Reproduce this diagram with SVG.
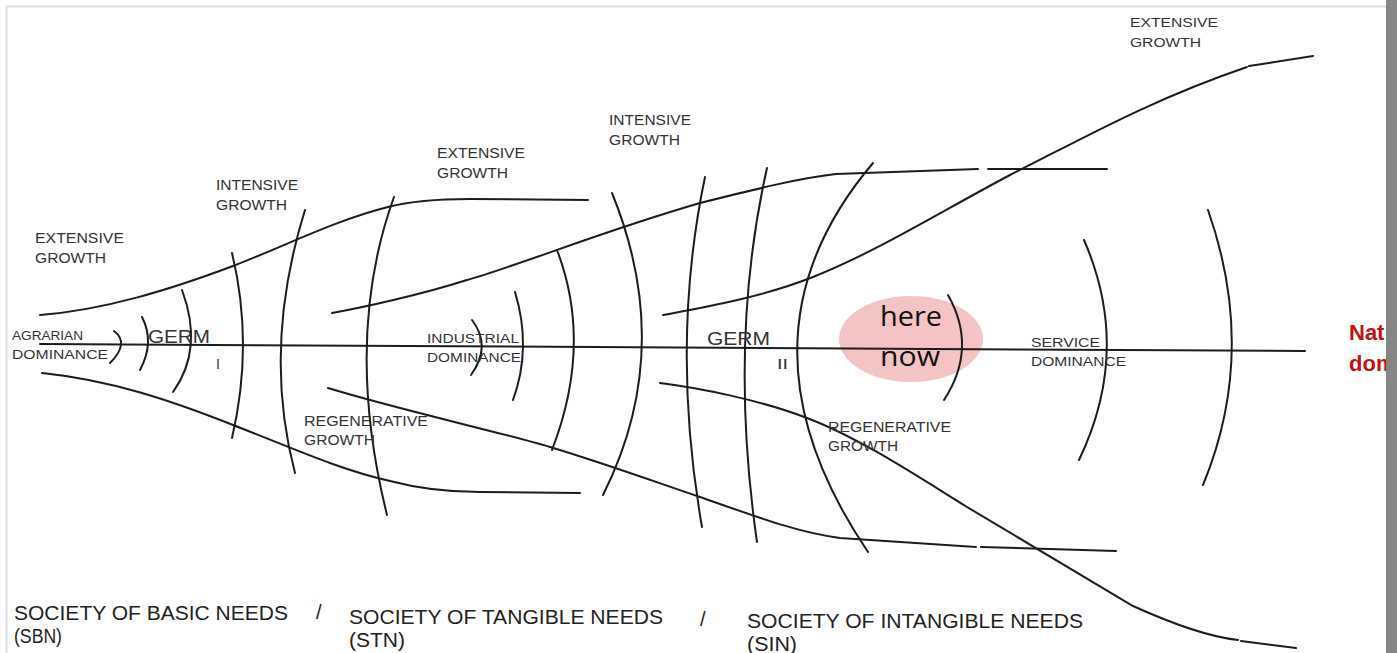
<svg xmlns="http://www.w3.org/2000/svg" width="1397" height="653" viewBox="0 0 1397 653">
<style>
.ln{fill:none;stroke:#1c1c1c;stroke-width:2;stroke-linecap:round}
.lb{font-family:"Liberation Sans",Arial,sans-serif;font-size:14px;fill:#333}
.sm{font-family:"Liberation Sans",Arial,sans-serif;font-size:13px;fill:#333}
.gm{font-family:"Liberation Sans",Arial,sans-serif;font-size:18px;fill:#333}
.bt{font-family:"Liberation Sans",Arial,sans-serif;font-size:20px;fill:#222}
.hn{font-family:"Open Sans","Liberation Sans",sans-serif;font-size:28px;fill:#111}
.rd{font-family:"Liberation Sans",Arial,sans-serif;font-size:22px;font-weight:bold;fill:#c41010}
</style>
<rect x="0" y="0" width="1397" height="653" fill="#ffffff"/>
<g id="frame">
<line x1="6.5" y1="6.5" x2="1386" y2="6.5" stroke="#dcdcdc" stroke-width="2"/>
<line x1="6.5" y1="6.5" x2="6.5" y2="653" stroke="#dcdcdc" stroke-width="2"/>
</g>
<g id="here-now">
<ellipse cx="911" cy="339" rx="72" ry="43" fill="#f4c4c4"/>
<text class="hn" x="880" y="326" textLength="62" lengthAdjust="spacingAndGlyphs">here</text>
<text class="hn" x="880" y="366" textLength="60" lengthAdjust="spacingAndGlyphs">now</text>
</g>
<g id="connectors">
<path class="ln" d="M40,344 L1305,351"/>
<path class="ln" d="M40,315 C104,310 169,290 233,266 C285,246 336,220 388,207 C415,200 445,199 470,199 L588,200"/>
<path class="ln" d="M42,373 C110,380 170,400 233,425 C290,447 340,470 390,481 C420,489 445,492 480,492 L580,493"/>
<path class="ln" d="M332,313 C360,308 420,295 467,280 C520,265 600,232 700,203 C760,188 800,178 836,174 L978,169 M988,169 L1107,169"/>
<path class="ln" d="M328,388 C400,410 500,432 550,447 C600,462 650,480 700,497 C760,518 800,533 840,538 L976,547 M981,547 L1116,551"/>
<path class="ln" d="M663,315 C700,308 760,298 813,277 C880,250 940,212 1010,175 C1080,140 1150,100 1247,67 M1249,66 L1313,56"/>
<path class="ln" d="M660,383 C700,388 760,400 807,418 C860,438 920,478 967,507 C1030,545 1090,580 1133,606 C1175,625 1210,637 1238,640 M1241,641 L1296,648"/>
</g>
<g id="arcs">
<path class="ln" d="M114,331 Q130,343 110,363"/>
<path class="ln" d="M142,317 Q155,342 140,370"/>
<path class="ln" d="M182,290 Q204,349 173,392"/>
<path class="ln" d="M232,253 Q254,344 232,438"/>
<path class="ln" d="M305,210 Q262,348 295,473"/>
<path class="ln" d="M394,197 Q343,338 387,515"/>
<path class="ln" d="M472,320 Q492,346 471,375"/>
<path class="ln" d="M515,292 Q532,348 513,400"/>
<path class="ln" d="M557,250 Q593,344 552,450"/>
<path class="ln" d="M612,193 Q676,350 603,495"/>
<path class="ln" d="M705,177 Q670,344 702,527"/>
<path class="ln" d="M767,168 Q728,341 757,542"/>
<path class="ln" d="M873,163 Q724,339 868,552"/>
<path class="ln" d="M948,295 Q978,348 944,400"/>
<path class="ln" d="M1084,240 Q1132,350 1079,460"/>
<path class="ln" d="M1208,210 Q1258,352 1203,485"/>
</g>
<g id="label-ext1">
<text class="lb" x="35" y="243" textLength="89" lengthAdjust="spacingAndGlyphs">EXTENSIVE</text>
<text class="lb" x="35" y="263" textLength="71" lengthAdjust="spacingAndGlyphs">GROWTH</text>
</g>
<g id="label-int1">
<text class="lb" x="216" y="190" textLength="82" lengthAdjust="spacingAndGlyphs">INTENSIVE</text>
<text class="lb" x="216" y="210" textLength="71" lengthAdjust="spacingAndGlyphs">GROWTH</text>
</g>
<g id="label-ext2">
<text class="lb" x="437" y="158" textLength="88" lengthAdjust="spacingAndGlyphs">EXTENSIVE</text>
<text class="lb" x="437" y="178" textLength="71" lengthAdjust="spacingAndGlyphs">GROWTH</text>
</g>
<g id="label-int2">
<text class="lb" x="609" y="125" textLength="82" lengthAdjust="spacingAndGlyphs">INTENSIVE</text>
<text class="lb" x="609" y="145" textLength="71" lengthAdjust="spacingAndGlyphs">GROWTH</text>
</g>
<g id="label-ext3">
<text class="sm" x="1130" y="27" textLength="88" lengthAdjust="spacingAndGlyphs">EXTENSIVE</text>
<text class="sm" x="1130" y="47" textLength="71" lengthAdjust="spacingAndGlyphs">GROWTH</text>
</g>
<g id="label-agrarian">
<text class="sm" x="12" y="340" textLength="71" lengthAdjust="spacingAndGlyphs">AGRARIAN</text>
<text class="sm" x="12" y="359" textLength="96" lengthAdjust="spacingAndGlyphs">DOMINANCE</text>
</g>
<g id="label-germ1">
<text class="gm" x="148" y="343" textLength="62" lengthAdjust="spacingAndGlyphs">GERM</text>
<text class="lb" x="216" y="369">I</text>
</g>
<g id="label-industrial">
<text class="sm" x="427" y="343" textLength="92" lengthAdjust="spacingAndGlyphs">INDUSTRIAL</text>
<text class="sm" x="427" y="362" textLength="94" lengthAdjust="spacingAndGlyphs">DOMINANCE</text>
</g>
<g id="label-regen1">
<text class="lb" x="304" y="426" textLength="124" lengthAdjust="spacingAndGlyphs">REGENERATIVE</text>
<text class="lb" x="304" y="445" textLength="71" lengthAdjust="spacingAndGlyphs">GROWTH</text>
</g>
<g id="label-germ2">
<text class="gm" x="707" y="345" textLength="63" lengthAdjust="spacingAndGlyphs">GERM</text>
<text class="lb" x="777" y="369" textLength="11" lengthAdjust="spacingAndGlyphs">II</text>
</g>
<g id="label-regen2">
<text class="lb" x="828" y="432" textLength="123" lengthAdjust="spacingAndGlyphs">REGENERATIVE</text>
<text class="lb" x="828" y="451" textLength="70" lengthAdjust="spacingAndGlyphs">GROWTH</text>
</g>
<g id="label-service">
<text class="sm" x="1031" y="347" textLength="69" lengthAdjust="spacingAndGlyphs">SERVICE</text>
<text class="sm" x="1031" y="366" textLength="95" lengthAdjust="spacingAndGlyphs">DOMINANCE</text>
</g>
<g id="label-nature">
<text class="rd" x="1349" y="340">Nat</text>
<text class="rd" x="1349" y="371">dom</text>
</g>
<g id="legend">
<text class="bt" x="14" y="620" textLength="274" lengthAdjust="spacingAndGlyphs">SOCIETY OF BASIC NEEDS</text>
<text class="bt" x="14" y="643" textLength="48" lengthAdjust="spacingAndGlyphs">(SBN)</text>
<text class="bt" x="316" y="619">/</text>
<text class="bt" x="349" y="624" textLength="314" lengthAdjust="spacingAndGlyphs">SOCIETY OF TANGIBLE NEEDS</text>
<text class="bt" x="349" y="647" textLength="56" lengthAdjust="spacingAndGlyphs">(STN)</text>
<text class="bt" x="700" y="626">/</text>
<text class="bt" x="747" y="628" textLength="336" lengthAdjust="spacingAndGlyphs">SOCIETY OF INTANGIBLE NEEDS</text>
<text class="bt" x="747" y="651" textLength="50" lengthAdjust="spacingAndGlyphs">(SIN)</text>
</g>
<rect id="side-bar" x="1386" y="0" width="11" height="653" fill="#858585"/>
</svg>
